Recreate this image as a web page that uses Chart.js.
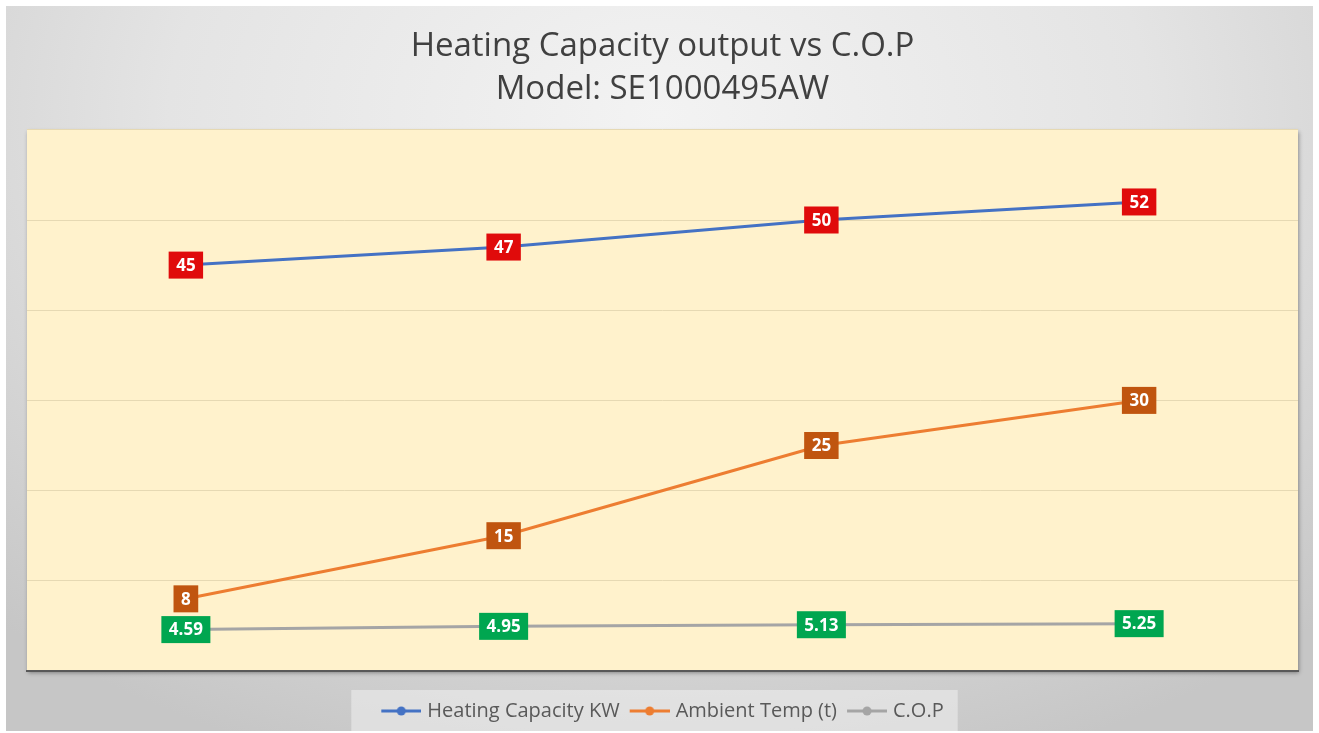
<!DOCTYPE html>
<html>
<head>
<meta charset="utf-8">
<script src="https://cdn.jsdelivr.net/npm/chart.js@4"></script>
<style>
  html, body { margin: 0; padding: 0; background: #ffffff; }
  #wrap {
    position: absolute; left: 6px; top: 6px; width: 1307px; height: 725px;
    background: radial-gradient(ellipse 75% 95% at 50% 15%, #f3f3f3 0%, #e4e4e4 50%, #c6c6c6 100%);
  }
</style>
</head>
<body>
<div id="wrap"><canvas id="copChart" width="1307" height="725"></canvas></div>
<script>
const categories = ['1', '2', '3', '4'];
const heatingKW = [45, 47, 50, 52];
const ambientTemp = [8, 15, 25, 30];
const copValues = [4.59, 4.95, 5.13, 5.25];
const yTicks = [0, 10, 20, 30, 40, 50, 60];

const labelColors = ['#e00b0b', '#c0550f', '#00a650'];

function legendIcon(color) {
    const c = document.createElement('canvas');
    c.width = 44; c.height = 12;
    const g = c.getContext('2d');
    g.strokeStyle = color; g.lineWidth = 3;
    g.beginPath(); g.moveTo(4, 6); g.lineTo(44, 6); g.stroke();
    g.fillStyle = color;
    g.beginPath(); g.arc(24, 6, 4.5, 0, Math.PI * 2); g.fill();
    return c;
}

// cream plot area with a soft shadow, and the legend box
const backdrop = {
    id: 'backdrop',
    beforeDraw(chart) {
        const { ctx, chartArea: a } = chart;
        ctx.save();
        ctx.shadowColor = 'rgba(0,0,0,0.35)';
        ctx.shadowBlur = 4;
        ctx.shadowOffsetX = 1;
        ctx.shadowOffsetY = 2;
        ctx.fillStyle = '#fff2cc';
        ctx.fillRect(a.left, a.top, a.right - a.left, a.bottom - a.top);
        ctx.restore();

        const lg = chart.legend;
        if (lg && lg.legendHitBoxes && lg.legendHitBoxes.length) {
            const hb = lg.legendHitBoxes;
            const x0 = hb[0].left - 30;
            const last = hb[hb.length - 1];
            const x1 = last.left + last.width + 14;
            ctx.save();
            ctx.fillStyle = 'rgba(240,240,240,0.55)';
            ctx.fillRect(x0, 684, x1 - x0, 41);
            ctx.restore();
        }
    }
};

// boxed value labels centred on each point
const valueBoxes = {
    id: 'valueBoxes',
    afterDatasetsDraw(chart) {
        const ctx = chart.ctx;
        ctx.save();
        ctx.font = 'bold 17px "Open Sans", sans-serif';
        ctx.textAlign = 'center';
        ctx.textBaseline = 'middle';
        chart.data.datasets.forEach((ds, i) => {
            const meta = chart.getDatasetMeta(i);
            meta.data.forEach((pt, j) => {
                const txt = String(ds.data[j]);
                const w = ctx.measureText(txt).width + 15;
                const h = 27;
                ctx.fillStyle = labelColors[i];
                ctx.fillRect(pt.x - w / 2, pt.y - h / 2, w, h);
                ctx.fillStyle = '#ffffff';
                ctx.fillText(txt, pt.x, pt.y + 1);
            });
        });
        ctx.restore();
    }
};

const ctx = document.getElementById('copChart').getContext('2d');
new Chart(ctx, {
    type: 'line',
    data: {
        labels: categories,
        datasets: [
            {
                label: 'Heating Capacity KW',
                data: heatingKW,
                borderColor: '#4472c4',
                backgroundColor: '#4472c4',
                borderWidth: 3,
                pointRadius: 4,
                tension: 0
            },
            {
                label: 'Ambient Temp (t)',
                data: ambientTemp,
                borderColor: '#ed7d31',
                backgroundColor: '#ed7d31',
                borderWidth: 3,
                pointRadius: 4,
                tension: 0
            },
            {
                label: 'C.O.P',
                data: copValues,
                borderColor: '#a5a5a5',
                backgroundColor: '#a5a5a5',
                borderWidth: 3,
                pointRadius: 4,
                tension: 0
            }
        ]
    },
    options: {
        responsive: false,
        animation: false,
        layout: { padding: { left: 21, right: 15, top: 0, bottom: 0 } },
        plugins: {
            title: {
                display: true,
                text: ['Heating Capacity output vs C.O.P', 'Model: SE1000495AW'],
                color: '#404040',
                font: { family: 'Open Sans', size: 33, weight: 'normal', lineHeight: 1.3 },
                padding: { top: 19, bottom: 19 }
            },
            legend: {
                position: 'bottom',
                labels: {
                    color: '#595959',
                    font: { family: 'Open Sans', size: 20 },
                    usePointStyle: true,
                    pointStyleWidth: 36,
                    padding: 10,
                    generateLabels(chart) {
                        return chart.data.datasets.map((ds, i) => ({
                            text: ds.label,
                            fillStyle: ds.borderColor,
                            strokeStyle: ds.borderColor,
                            pointStyle: legendIcon(ds.borderColor),
                            fontColor: '#595959',
                            hidden: false,
                            datasetIndex: i
                        }));
                    }
                }
            },
            tooltip: { enabled: false }
        },
        scales: {
            x: {
                offset: true,
                ticks: { display: false },
                grid: { display: false, drawTicks: true, tickLength: 20 },
                border: { display: true, color: '#595959', width: 2 }
            },
            y: {
                min: yTicks[0],
                max: yTicks[yTicks.length - 1],
                afterBuildTicks(axis) { axis.ticks = yTicks.map(v => ({ value: v })); },
                ticks: { display: false },
                grid: { color: '#e6d9b3', lineWidth: 1, drawTicks: false },
                border: { display: false }
            }
        }
    },
    plugins: [backdrop, valueBoxes]
});
</script>
</body>
</html>
